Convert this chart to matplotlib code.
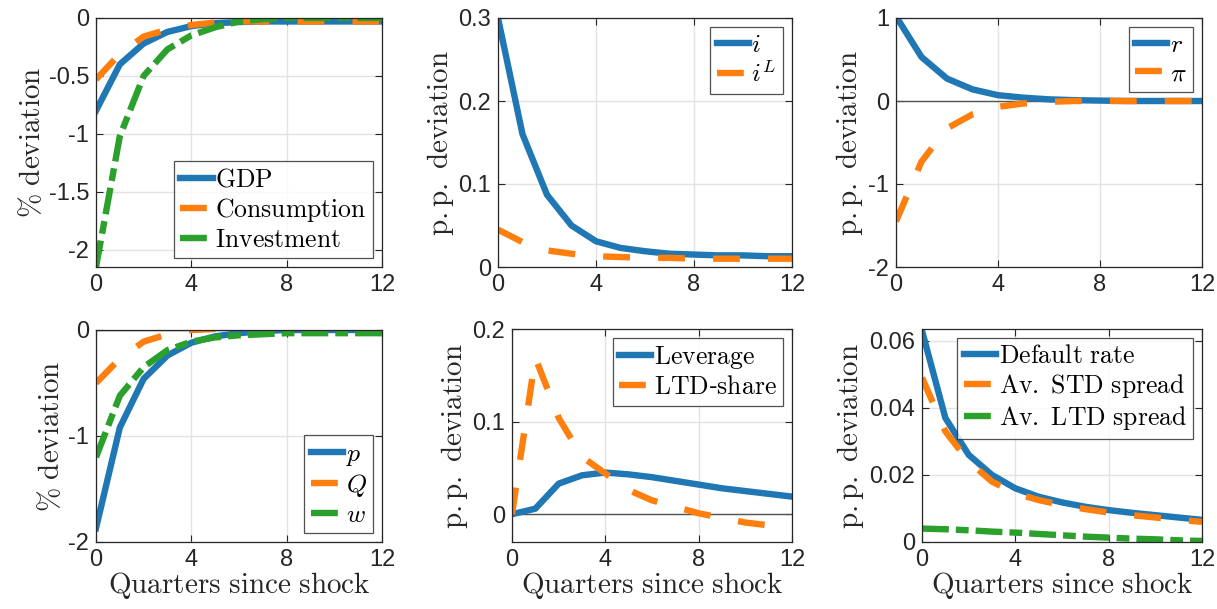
import matplotlib
matplotlib.use('Agg')
import matplotlib.pyplot as plt
import numpy as np

plt.rcParams['font.family'] = ['Liberation Sans', 'DejaVu Sans']
plt.rcParams['mathtext.fontset'] = 'cm'

q = np.arange(13)

# panel 1
gdp = [-0.80, -0.40, -0.22, -0.12, -0.07, -0.045, -0.035, -0.03, -0.03, -0.03, -0.03, -0.03, -0.03]
cons = [-0.53, -0.31, -0.16, -0.10, -0.06, -0.04, -0.03, -0.03, -0.03, -0.03, -0.03, -0.03, -0.03]
inv = [-2.15, -1.02, -0.50, -0.27, -0.15, -0.08, -0.03, -0.01, 0.0, 0.0, 0.0, 0.0, 0.0]
# panel 2
i_rate = [0.30, 0.16, 0.087, 0.05, 0.031, 0.023, 0.019, 0.016, 0.015, 0.014, 0.014, 0.013, 0.013]
i_L = [0.045, 0.03, 0.02, 0.016, 0.013, 0.012, 0.011, 0.011, 0.010, 0.010, 0.010, 0.010, 0.010]
# panel 3
r_rate = [1.02, 0.53, 0.27, 0.14, 0.07, 0.04, 0.02, 0.01, 0.005, 0.0, 0.0, 0.0, 0.0]
infl = [-1.45, -0.73, -0.33, -0.16, -0.07, -0.03, -0.01, 0.0, 0.0, 0.0, 0.0, 0.0, 0.0]
# panel 4
p_price = [-1.87, -0.92, -0.46, -0.24, -0.12, -0.06, -0.03, -0.01, 0.0, 0.0, 0.0, 0.0, 0.0]
Q_price = [-0.50, -0.27, -0.11, -0.04, 0.0, 0.01, 0.02, 0.02, 0.02, 0.02, 0.02, 0.02, 0.02]
w_wage = [-1.20, -0.62, -0.35, -0.19, -0.11, -0.07, -0.05, -0.04, -0.03, -0.03, -0.03, -0.03, -0.03]
# panel 5
leverage = [0.0, 0.006, 0.033, 0.042, 0.045, 0.043, 0.040, 0.036, 0.032, 0.028, 0.025, 0.022, 0.019]
ltd_share = [0.0, 0.169, 0.104, 0.062, 0.044, 0.026, 0.015, 0.008, 0.001, -0.004, -0.009, -0.012, -0.015]
# panel 6
default = [0.063, 0.037, 0.026, 0.020, 0.016, 0.0135, 0.0118, 0.0105, 0.0095, 0.0087, 0.008, 0.0073, 0.0066]
std_spread = [0.049, 0.033, 0.024, 0.018, 0.0145, 0.0125, 0.011, 0.0098, 0.0088, 0.008, 0.0073, 0.0066, 0.006]
ltd_spread = [0.004, 0.0038, 0.0035, 0.0031, 0.0028, 0.0024, 0.002, 0.0016, 0.0013, 0.001, 0.0008, 0.0005, 0.0003]

blue, orange, green = '#1f77b4', '#ff7f0e', '#2ca02c'
W, H = 1217, 609
pp_label = r'$\mathrm{p{.}p{.}\ deviation}$'

fig = plt.figure(figsize=(12.17, 6.09), dpi=100)


def mk_ax(l, r, t, b):
    return fig.add_axes([l / W, 1 - b / H, (r - l) / W, (b - t) / H])


def style(ax, ylim, yticks, ylabel, xlabel=False, zero=False):
    ax.set_xlim(0, 12)
    ax.set_ylim(*ylim)
    ax.set_xticks([0, 4, 8, 12])
    ax.set_yticks(yticks)
    ax.grid(True, color='#e3e3e3', lw=1)
    ax.set_axisbelow(True)
    ax.tick_params(direction='in', labelsize=17, colors='#262626', length=5,
                   top=True, right=True, pad=5)
    for s in ax.spines.values():
        s.set_color('#262626')
        s.set_linewidth(0.9)
    if zero:
        ax.axhline(0, color='#555555', lw=1, zorder=1)
    ax.set_ylabel(ylabel, fontsize=21, color='#262626', labelpad=2)
    if xlabel:
        ax.set_xlabel(r'$\mathrm{Quarters\ since\ shock}$', fontsize=21, color='#262626', labelpad=-1)


def leg(ax, loc):
    lg = ax.legend(loc=loc, fontsize=18.5, frameon=True, fancybox=False, handlelength=1.25,
                   handletextpad=0.1, borderpad=0.25, labelspacing=0.15, borderaxespad=0.35)
    lg.get_frame().set_edgecolor('#262626')
    lg.get_frame().set_linewidth(0.9)


lw = 4.6
dsh_o = (4.2, 4.4)
dsh_g = (4.2, 1.1, 2.0, 1.1)

# panel 1
ax = mk_ax(96, 382, 18, 267)
ax.plot(q, gdp, color=blue, lw=lw, label=r'$\mathrm{GDP}$')
ax.plot(q, cons, color=orange, lw=lw, dashes=dsh_o, label=r'$\mathrm{Consumption}$')
ax.plot(q, inv, color=green, lw=lw, dashes=dsh_g, label=r'$\mathrm{Investment}$')
style(ax, (-2.15, 0), [-2, -1.5, -1, -0.5, 0], r'$\%\ \mathrm{deviation}$')
ax.set_yticklabels(['-2', '-1.5', '-1', '-0.5', '0'])
leg(ax, 'lower right')

# panel 2
ax = mk_ax(498, 792, 18, 267)
ax.plot(q, i_rate, color=blue, lw=lw, label=r'$i$')
ax.plot(q, i_L, color=orange, lw=lw, dashes=dsh_o, label=r'$i^L$')
style(ax, (0, 0.3), [0, 0.1, 0.2, 0.3], pp_label)
ax.set_yticklabels(['0', '0.1', '0.2', '0.3'])
leg(ax, 'upper right')

# panel 3
ax = mk_ax(896, 1202, 18, 267)
ax.plot(q, r_rate, color=blue, lw=lw, label=r'$r$')
ax.plot(q, infl, color=orange, lw=lw, dashes=dsh_o, label=r'$\pi$')
style(ax, (-2, 1), [-2, -1, 0, 1], pp_label, zero=True)
ax.set_yticklabels(['-2', '-1', '0', '1'])
leg(ax, 'upper right')

# panel 4
ax = mk_ax(96, 382, 330, 542)
ax.plot(q, p_price, color=blue, lw=lw, label=r'$p$')
ax.plot(q, Q_price, color=orange, lw=lw, dashes=dsh_o, label=r'$Q$')
ax.plot(q, w_wage, color=green, lw=lw, dashes=dsh_g, label=r'$w$')
style(ax, (-2, 0), [-2, -1, 0], r'$\%\ \mathrm{deviation}$', xlabel=True, zero=True)
ax.set_yticklabels(['-2', '-1', '0'])
leg(ax, 'lower right')

# panel 5
ax = mk_ax(512, 792, 329, 542)
ax.plot(q, leverage, color=blue, lw=lw, label=r'$\mathrm{Leverage}$')
ax.plot(q, ltd_share, color=orange, lw=lw, dashes=dsh_o, label=r'$\mathrm{LTD}$-$\mathrm{share}$')
style(ax, (-0.03, 0.2), [0, 0.1, 0.2], pp_label, xlabel=True, zero=True)
ax.set_yticklabels(['0', '0.1', '0.2'])
leg(ax, 'upper right')

# panel 6
ax = mk_ax(922, 1202, 329, 542)
ax.plot(q, default, color=blue, lw=lw, label=r'$\mathrm{Default\ rate}$')
ax.plot(q, std_spread, color=orange, lw=lw, dashes=dsh_o, label=r'$\mathrm{Av{.}\ STD\ spread}$')
ax.plot(q, ltd_spread, color=green, lw=lw, dashes=dsh_g, label=r'$\mathrm{Av{.}\ LTD\ spread}$')
style(ax, (0, 0.0635), [0, 0.02, 0.04, 0.06], pp_label, xlabel=True)
ax.set_yticklabels(['0', '0.02', '0.04', '0.06'])
leg(ax, 'upper right')

fig.savefig('out.png', dpi=100)
